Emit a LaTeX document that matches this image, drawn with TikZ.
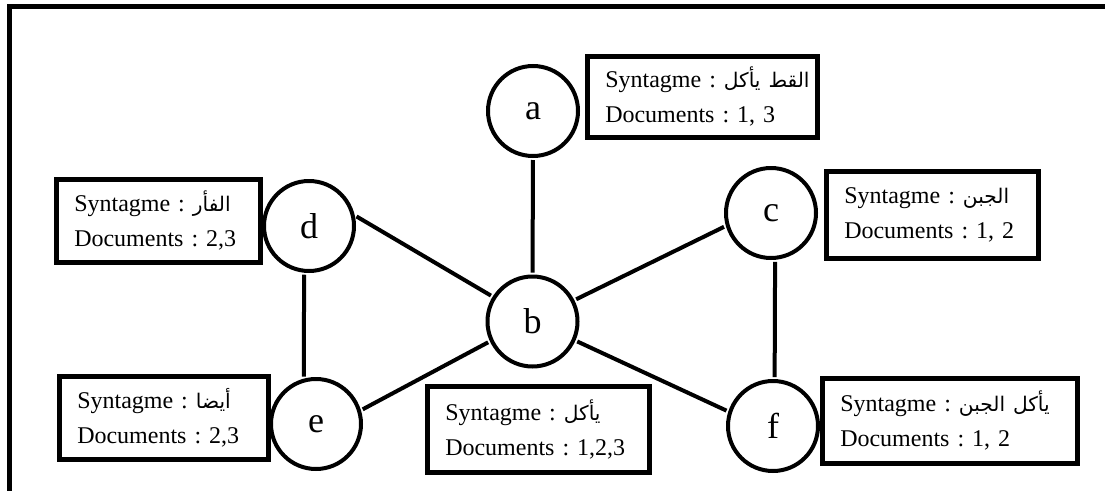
\documentclass[tikz,border=0pt]{standalone}
\usepackage{fontspec}
\setmainfont{Liberation Serif}
\newfontfamily\arabicfont[Script=Arabic,Scale=0.84]{DejaVu Sans}
\TeXXeTstate=1
% Arabic phrase set right to left
\newcommand{\arphrase}[1]{{\arabicfont\beginR #1\endR}}
\begin{document}
\begin{tikzpicture}[x=1pt,y=-1pt,
  vertex/.style={circle,draw,line width=4pt,minimum size=90pt,inner sep=0pt,
                 font=\fontsize{36}{36}\selectfont},
  infobox/.style={draw,line width=4.5pt,anchor=north west,inner xsep=18pt,
                  inner ysep=0pt,align=left,
                  font=\fontsize{24}{35}\selectfont\frenchspacing},
  link/.style={line width=4pt,shorten <=2pt,shorten >=2pt}]
\useasboundingbox (0,0) rectangle (1105,490);

% outer frame (top and left sides)
\draw[line width=5pt] (9.5,495) -- (9.5,6.5) -- (1110,6.5);

% vertices
\node[vertex] (a) at (533,111) {a};
\node[vertex] (b) at (532.5,321.5) {b};
\node[vertex] (c) at (771,213) {c};
\node[vertex] (d) at (309,226) {d};
\node[vertex] (e) at (316,424) {e};
\node[vertex] (f) at (773,426) {f};

% information boxes
\node[infobox,text width=194pt,minimum height=81pt] (ba) at (585,54)
  {\mbox{Syntagme : \arphrase{القط يأكل}}\\\mbox{Documents : 1, 3}};
\node[infobox,text width=168pt,minimum height=83pt] (bd) at (54,177)
  {\mbox{Syntagme : \arphrase{الفأر}}\\\mbox{Documents : 2,3}};
\node[infobox,text width=176pt,minimum height=87pt] (bc) at (824,169)
  {\mbox{Syntagme : \arphrase{الجبن}}\\\mbox{Documents : 1, 2}};
\node[infobox,text width=173pt,minimum height=83pt] (be) at (57,374)
  {\mbox{Syntagme : \arphrase{أيضا}}\\\mbox{Documents : 2,3}};
\node[infobox,text width=186pt,minimum height=86pt] (bb) at (425,384)
  {\mbox{Syntagme : \arphrase{يأكل}}\\\mbox{Documents : 1,2,3}};
\node[infobox,text width=219pt,minimum height=85pt] (bf) at (820,376)
  {\mbox{Syntagme : \arphrase{يأكل الجبن}}\\\mbox{Documents : 1, 2}};

% edges
\draw[link] (a) -- (b);
\draw[link] (d.13) -- (b.148);
\draw[link] (c.196) -- (b.27);
\draw[link] (e.17) -- (b.205);
\draw[link] (b.-24) -- (f.162);
\draw[link] (c.-85) -- (f.88);
\draw[link] (d.-96) -- (e.105);
\end{tikzpicture}
\end{document}
